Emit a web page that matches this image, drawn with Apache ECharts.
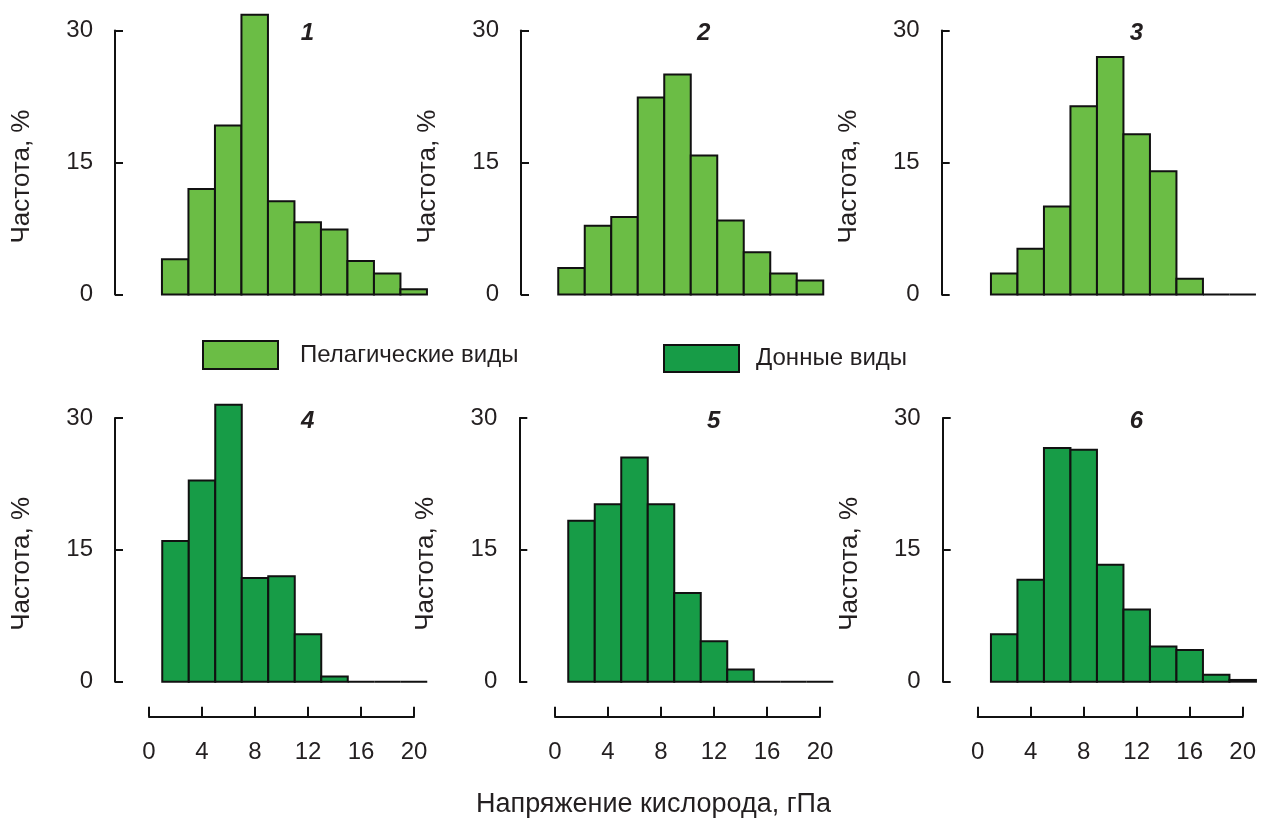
<!DOCTYPE html>
<html>
<head>
<meta charset="utf-8">
<title>Частота напряжения кислорода</title>
<script src="https://cdn.jsdelivr.net/npm/echarts@6/dist/echarts.min.js"></script>
<style>
  html, body { margin: 0; padding: 0; background: #fff; }
  #chart { width: 1265px; height: 821px; }
</style>
</head>
<body>
<div id="chart"></div>
<script>
// bin centres (gPa), each bin is 2 wide
const binCenters = [2, 4, 6, 8, 10, 12, 14, 16, 18, 20]

// frequencies, %
const panel1 = [4.0, 12.0, 19.2, 31.8, 10.6, 8.2, 7.4, 3.8, 2.4, 0.6]
const panel2 = [3.0, 7.8, 8.8, 22.4, 25.0, 15.8, 8.4, 4.8, 2.4, 1.6]
const panel3 = [2.4, 5.2, 10.0, 21.4, 27.0, 18.2, 14.0, 1.8, 0, 0]
const panel4 = [16.0, 22.9, 31.5, 11.8, 12.0, 5.4, 0.6, 0, 0, 0]
const panel5 = [18.3, 20.2, 25.5, 20.2, 10.1, 4.6, 1.4, 0, 0, 0]
const panel6 = [5.4, 11.6, 26.6, 26.4, 13.3, 8.2, 4.0, 3.6, 0.8, 0.2]

const panelLabels = ['1', '2', '3', '4', '5', '6']
const pelagicName = 'Пелагические виды'
const benthicName = 'Донные виды'
const yName = 'Частота, %'
const xName = 'Напряжение кислорода, гПа'

const lightGreen = '#6bbd45'
const darkGreen = '#179c47'
const ink = '#231f20'
const font = '"Liberation Sans", Arial, sans-serif'

const chart = echarts.init(document.getElementById('chart'))

// panel frames: left of x=0, top, y-axis offset
const frames = [
  { left: 148.7, top: 30.5, height: 264, yOff: 33.7 },
  { left: 545, top: 30.5, height: 264, yOff: 24 },
  { left: 977.7, top: 30.5, height: 264, yOff: 36 },
  { left: 149, top: 418, height: 263.7, yOff: 34 },
  { left: 555, top: 418, height: 263.7, yOff: 35.7 },
  { left: 977.7, top: 418, height: 263.7, yOff: 35 },
]
const panels = [panel1, panel2, panel3, panel4, panel5, panel6]

const renderBin = (params, api) => {
  const x = api.value(0)
  const v = api.value(1)
  const p0 = api.coord([x - 1, 0])
  const p1 = api.coord([x + 1, v])
  return {
    type: 'rect',
    shape: { x: p0[0], y: p1[1], width: p1[0] - p0[0], height: p0[1] - p1[1] },
    style: api.style({ stroke: '#111', lineWidth: 2 }),
  }
}

const option = {
  backgroundColor: '#fff',
  animation: false,
  textStyle: { fontFamily: font },
  title: panels.map((p, i) => ({
    text: panelLabels[i],
    left: frames[i].left + 147,
    top: frames[i].top - 14,
    textStyle: { fontSize: 24, fontWeight: 'bold', fontStyle: 'italic', color: ink, fontFamily: font },
  })).concat([{
    text: xName,
    left: 471,
    top: 786,
    textStyle: { fontSize: 27, fontWeight: 'normal', color: ink, fontFamily: font },
  }]),
  legend: [
    {
      data: [{ name: pelagicName, itemStyle: { color: lightGreen, borderColor: '#111', borderWidth: 2 } }],
      left: 197, top: 335,
      icon: 'rect',
      itemWidth: 75, itemHeight: 28,
      textStyle: { fontSize: 24, color: ink, padding: [0, 0, 0, 17], fontFamily: font },
      selectedMode: false,
    },
    {
      data: [{ name: benthicName, itemStyle: { color: darkGreen, borderColor: '#111', borderWidth: 2 } }],
      left: 658, top: 339,
      icon: 'rect',
      itemWidth: 75, itemHeight: 27,
      textStyle: { fontSize: 24, color: ink, padding: [0, 0, 0, 12], fontFamily: font },
      selectedMode: false,
    },
  ],
  grid: frames.map(f => ({ left: f.left, top: f.top, width: 265, height: f.height })),
  xAxis: frames.map((f, i) => ({
    gridIndex: i,
    type: 'value',
    min: 0,
    max: 20,
    interval: 4,
    show: i >= 3,
    offset: 35,
    axisLine: { show: true, onZero: false, lineStyle: { color: '#111', width: 2 } },
    axisTick: { show: true, inside: true, length: 10, lineStyle: { color: '#111', width: 2 } },
    axisLabel: { fontSize: 24, color: ink, margin: 24, fontFamily: font },
    splitLine: { show: false },
  })),
  yAxis: frames.map((f, i) => ({
    gridIndex: i,
    type: 'value',
    min: 0,
    max: 30,
    interval: 15,
    offset: f.yOff,
    name: yName,
    nameLocation: 'middle',
    nameGap: 80,
    nameTextStyle: { fontSize: 26, color: ink, padding: [0, 28, 0, 0], fontFamily: font },
    axisLine: { show: true, onZero: false, lineStyle: { color: '#111', width: 2 } },
    axisTick: { show: true, inside: true, length: 8, lineStyle: { color: '#111', width: 2 } },
    axisLabel: { fontSize: 24, color: ink, margin: 22, fontFamily: font },
    splitLine: { show: false },
  })),
  series: panels.map((vals, i) => ({
    name: i < 3 ? pelagicName : benthicName,
    type: 'custom',
    xAxisIndex: i,
    yAxisIndex: i,
    clip: false,
    itemStyle: { color: i < 3 ? lightGreen : darkGreen },
    renderItem: renderBin,
    data: binCenters.map((c, k) => [c, vals[k]]),
  })),
}

chart.setOption(option)
</script>
</body>
</html>
